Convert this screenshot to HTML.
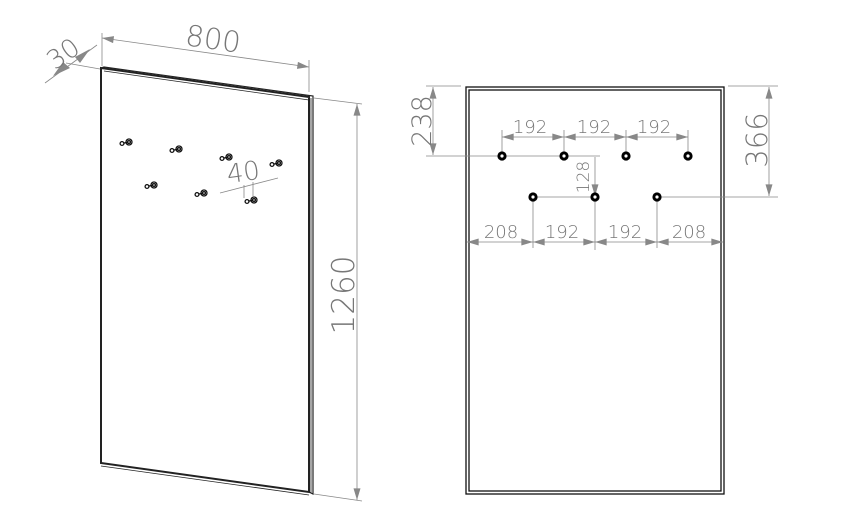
<!DOCTYPE html>
<html><head><meta charset="utf-8"><style>
html,body{margin:0;padding:0;background:#fff;}
svg{display:block;}
text{font-family:"DejaVu Sans","Liberation Sans",sans-serif;font-weight:200;fill:#777;}
</style></head><body>
<svg width="843" height="512" viewBox="0 0 843 512" xmlns="http://www.w3.org/2000/svg">
<defs>
<marker id="a" viewBox="0 0 10 6" refX="10" refY="3" markerWidth="17" markerHeight="7" markerUnits="userSpaceOnUse" orient="auto-start-reverse"><path d="M0,0 L10,3 L0,6 Z" fill="#888"/></marker>
<g id="hook" stroke="#111" fill="none" stroke-width="1.3">
<circle cx="-4" cy="1.5" r="1.9"/>
<line x1="-2" y1="1" x2="2" y2="0.3"/>
<circle cx="3" cy="0" r="3"/>
<circle cx="3" cy="0" r="1.4"/>
</g>
<g id="dot"><circle r="4.6" fill="#000"/><circle r="1.6" fill="#fff"/></g>
</defs>

<!-- LEFT PANEL -->
<g stroke="#222" fill="none">
<polygon points="101,68 309,97 309,492 101,463" stroke-width="2"/>
<polyline points="101,68 104,67 313,96 313,494 309,492" stroke-width="1.2"/>
<line x1="104" y1="71" x2="309" y2="100" stroke-width="0.8"/>
<line x1="101" y1="466" x2="309" y2="495" stroke-width="0.8"/>
<line x1="311" y1="98" x2="311" y2="493" stroke-width="0.8"/>
</g>
<g stroke="#888" stroke-width="0.8" fill="none">
<line x1="102" y1="33" x2="102" y2="66"/>
<line x1="309" y1="60" x2="309" y2="92"/>
<line x1="102" y1="38" x2="309" y2="67" marker-start="url(#a)" marker-end="url(#a)"/>
<line x1="66" y1="63" x2="100" y2="69"/>
<line x1="45" y1="83" x2="97" y2="45"/>
<line x1="314" y1="98" x2="362" y2="104"/>
<line x1="314" y1="494" x2="362" y2="501"/>
<line x1="357" y1="104" x2="357" y2="500" marker-start="url(#a)" marker-end="url(#a)"/>
<line x1="220" y1="193" x2="278" y2="178"/>
<line x1="244" y1="185" x2="244" y2="198"/>
<line x1="253" y1="182" x2="253" y2="196"/>
</g>
<path d="M53,76 L70,68 L63,62 Z" fill="#888"/>
<path d="M90,49 L75,57 L80,63 Z" fill="#888"/>
<text x="213" y="49" font-size="29" text-anchor="middle" transform="rotate(8 213 40)">800</text>
<text x="62" y="63" font-size="26" text-anchor="middle" transform="rotate(-35 62 52)">30</text>
<text x="343" y="306" font-size="31" text-anchor="middle" transform="rotate(-90 343 295)">1260</text>
<text x="243" y="181" font-size="26" text-anchor="middle" transform="rotate(-8 243 170)">40</text>
<use href="#hook" x="126" y="142"/>
<use href="#hook" x="176" y="149"/>
<use href="#hook" x="226" y="157"/>
<use href="#hook" x="276" y="163"/>
<use href="#hook" x="151" y="185"/>
<use href="#hook" x="201" y="193"/>
<use href="#hook" x="251" y="200"/>

<!-- RIGHT PANEL -->
<rect x="466" y="87" width="258" height="407" fill="none" stroke="#111" stroke-width="1.3"/>
<rect x="469" y="90" width="252" height="401" fill="none" stroke="#111" stroke-width="1.3"/>
<g stroke="#888" stroke-width="0.8" fill="none">
<line x1="426" y1="86" x2="461" y2="86"/>
<line x1="426" y1="156" x2="600" y2="156"/>
<line x1="433" y1="87" x2="433" y2="155" marker-start="url(#a)" marker-end="url(#a)"/>
<line x1="728" y1="86" x2="778" y2="86"/>
<line x1="660" y1="197" x2="778" y2="197"/>
<line x1="769" y1="87" x2="769" y2="196" marker-start="url(#a)" marker-end="url(#a)"/>
<line x1="502" y1="130" x2="502" y2="156"/>
<line x1="564" y1="130" x2="564" y2="156"/>
<line x1="626" y1="130" x2="626" y2="156"/>
<line x1="688" y1="130" x2="688" y2="156"/>
<line x1="502" y1="137" x2="564" y2="137" marker-start="url(#a)" marker-end="url(#a)"/>
<line x1="564" y1="137" x2="626" y2="137" marker-start="url(#a)" marker-end="url(#a)"/>
<line x1="626" y1="137" x2="688" y2="137" marker-start="url(#a)" marker-end="url(#a)"/>
<line x1="595" y1="157" x2="595" y2="196" marker-end="url(#a)"/>
<line x1="533" y1="197" x2="595" y2="197"/>
<line x1="533" y1="197" x2="533" y2="248"/>
<line x1="595" y1="197" x2="595" y2="250"/>
<line x1="657" y1="197" x2="657" y2="248"/>
<line x1="467" y1="242" x2="533" y2="242" marker-start="url(#a)" marker-end="url(#a)"/>
<line x1="533" y1="242" x2="595" y2="242" marker-start="url(#a)" marker-end="url(#a)"/>
<line x1="595" y1="242" x2="657" y2="242" marker-start="url(#a)" marker-end="url(#a)"/>
<line x1="657" y1="242" x2="723" y2="242" marker-start="url(#a)" marker-end="url(#a)"/>
</g>
<text x="421" y="131" font-size="27" text-anchor="middle" transform="rotate(-90 421 121)">238</text>
<text x="757" y="150" font-size="29" text-anchor="middle" transform="rotate(-90 757 140)">366</text>
<text x="583" y="183" font-size="17" text-anchor="middle" transform="rotate(-90 583 177)">128</text>
<g font-size="18" text-anchor="middle">
<text x="530" y="133">192</text>
<text x="594" y="133">192</text>
<text x="654" y="133">192</text>
<text x="501" y="238">208</text>
<text x="562" y="238">192</text>
<text x="625" y="238">192</text>
<text x="689" y="238">208</text>
</g>
<use href="#dot" x="502" y="156"/>
<use href="#dot" x="564" y="156"/>
<use href="#dot" x="626" y="156"/>
<use href="#dot" x="688" y="156"/>
<use href="#dot" x="533" y="197"/>
<use href="#dot" x="595" y="197"/>
<use href="#dot" x="657" y="197"/>
</svg>
</body></html>
